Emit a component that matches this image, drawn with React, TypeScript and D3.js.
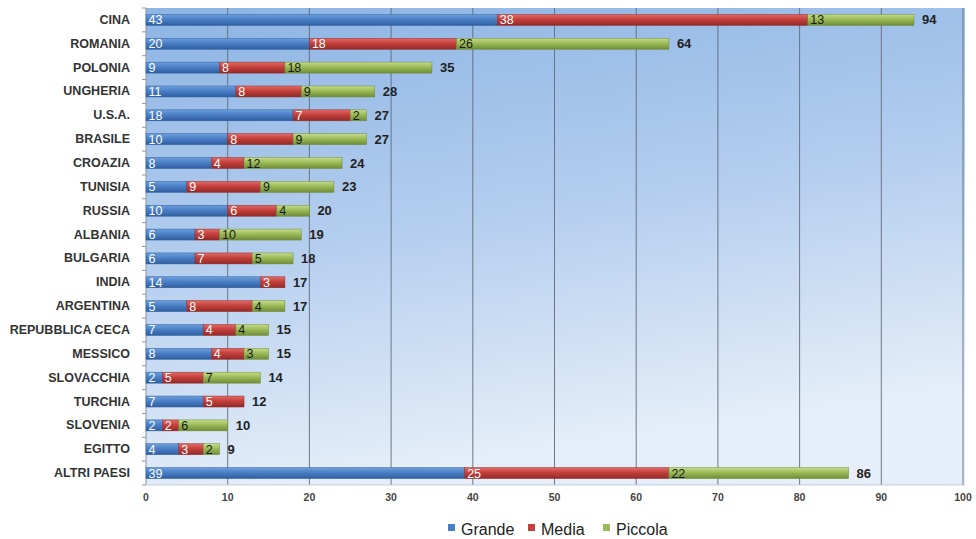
import React from "react";
import * as d3 from "d3";

const countries = ["CINA","ROMANIA","POLONIA","UNGHERIA","U.S.A.","BRASILE","CROAZIA","TUNISIA","RUSSIA","ALBANIA","BULGARIA","INDIA","ARGENTINA","REPUBBLICA CECA","MESSICO","SLOVACCHIA","TURCHIA","SLOVENIA","EGITTO","ALTRI PAESI"];
const grande = [43,20,9,11,18,10,8,5,10,6,6,14,5,7,8,2,7,2,4,39];
const media = [38,18,8,8,7,8,4,9,6,3,7,3,8,4,4,5,5,2,3,25];
const piccola = [13,26,18,9,2,9,12,9,4,10,5,0,4,4,3,7,0,6,2,22];
const seriesNames = ["Grande","Media","Piccola"];
const xTicks = [0,10,20,30,40,50,60,70,80,90,100];

const W = 976, H = 539;
const left = 146, right = 963, top = 8, bottom = 485;

const colors = [
  { top: "#6e9fdc", mid: "#4a7fc6", bot: "#2f5e9e", text: "#ffffff" },
  { top: "#e06a66", mid: "#c4403c", bot: "#912a27", text: "#ffffff" },
  { top: "#c8dc8a", mid: "#9bbb59", bot: "#6f8c35", text: "#1a1a1a" },
];

export default function App() {
  const x = d3.scaleLinear().domain([0, 100]).range([left, right]);
  const y = d3.scaleBand().domain(countries).range([top, bottom]).paddingInner(0.54).paddingOuter(0.27);
  const data = countries.map((c, i) => ({ c, vals: [grande[i], media[i], piccola[i]] }));
  const bh = y.bandwidth();
  const step = y.step();

  return (
    <svg width={W} height={H} style={{ display: "block", position: "absolute", left: 0, top: 0 }} fontFamily="Liberation Sans, Arial, sans-serif">
      <defs>
        <linearGradient id="bg" x1="0" y1="0" x2="0.25" y2="1">
          <stop offset="0" stopColor="#8db4e4" />
          <stop offset="0.5" stopColor="#b3cdee" />
          <stop offset="1" stopColor="#e6eff9" />
        </linearGradient>
        {colors.map((c, i) => (
          <linearGradient key={i} id={`g${i}`} x1="0" y1="0" x2="0" y2="1">
            <stop offset="0" stopColor={c.top} />
            <stop offset="0.45" stopColor={c.mid} />
            <stop offset="1" stopColor={c.bot} />
          </linearGradient>
        ))}
      </defs>
      <rect x={0} y={0} width={W} height={H} fill="#ffffff" />
      <rect x={left} y={top} width={right - left + 2} height={bottom - top} fill="url(#bg)" />
      {xTicks.slice(1).map((t) => (
        <line key={t} x1={x(t)} x2={x(t)} y1={top} y2={bottom} stroke="#5f6b7a" strokeWidth={0.9} />
      ))}
      <line x1={left} x2={left} y1={top} y2={bottom} stroke="#8a96a6" strokeWidth={1} />
      <line x1={left} x2={right + 2} y1={bottom} y2={bottom} stroke="#c5cfdb" strokeWidth={1} />
      {d3.range(countries.length + 1).map((k) => (
        <line key={k} x1={left - 4} x2={left} y1={top + k * step} y2={top + k * step} stroke="#8a96a6" strokeWidth={1} />
      ))}
      {data.map((d) => {
        let acc = 0;
        const yy = y(d.c)!;
        const total = d.vals.reduce((a, b) => a + b, 0);
        return (
          <g key={d.c}>
            <text x={130} y={yy + bh / 2} textAnchor="end" dominantBaseline="central" fontSize={12.5} fontWeight="bold" fill="#333">{d.c}</text>
            {d.vals.map((v, si) => {
              if (v === 0) return null;
              const x0 = x(acc);
              acc += v;
              const x1 = x(acc);
              return (
                <g key={si}>
                  <rect x={x0} y={yy} width={x1 - x0} height={bh} fill={`url(#g${si})`} stroke={colors[si].bot} strokeWidth={0.5} />
                  <text x={x0 + 2.5} y={yy + bh / 2 + 0.5} dominantBaseline="central" fontSize={12.5} fill={colors[si].text} fontFamily="Liberation Sans Narrow, Liberation Sans, Arial, sans-serif">{v}</text>
                </g>
              );
            })}
            <text x={x(total) + 8} y={yy + bh / 2} dominantBaseline="central" fontSize={13} fontWeight="bold" fill="#222">{total}</text>
          </g>
        );
      })}
      {xTicks.map((t) => (
        <text key={t} x={x(t)} y={501} textAnchor="middle" fontSize={10.5} fontWeight="bold" fill="#444">{t}</text>
      ))}
      {seriesNames.map((s, i) => {
        const lx = [448, 528, 603][i];
        return (
          <g key={s}>
            <rect x={lx} y={524} width={7} height={7} fill={colors[i].mid} />
            <text x={lx + 13} y={535} fontSize={16} fill="#222">{s}</text>
          </g>
        );
      })}
    </svg>
  );
}
